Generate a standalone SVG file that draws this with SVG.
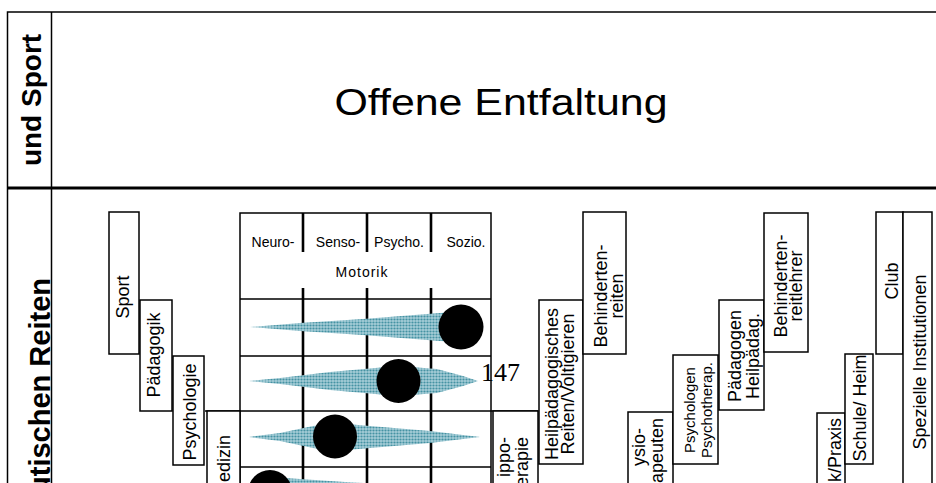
<svg xmlns="http://www.w3.org/2000/svg" width="936" height="483" viewBox="0 0 936 483">
<style>
.frame{fill:none;stroke:#000;stroke-width:1.5}
.box{fill:#fff;stroke:#000;stroke-width:1.5}
.gl{stroke:#000;stroke-width:1.5;fill:none}
.gv{stroke:#000;stroke-width:2.6;fill:none}
.t{font-family:"Liberation Sans",Arial,sans-serif;fill:#000}
.bt{font-family:"Liberation Sans",Arial,sans-serif;font-size:18px;fill:#000;text-anchor:middle}
.st{font-family:"Liberation Sans",Arial,sans-serif;font-size:15px;fill:#000;text-anchor:middle}
.ct{font-family:"Liberation Sans",Arial,sans-serif;font-size:18px;fill:#000;text-anchor:end}
.ht{font-family:"Liberation Sans",Arial,sans-serif;font-size:14px;fill:#000;text-anchor:middle}
.sp{fill:url(#dots)}
.dot{fill:#000}
</style>
<defs>
<pattern id="dots" width="3" height="3" patternUnits="userSpaceOnUse">
<rect width="3" height="3" fill="#a6ced8"/>
<circle cx="1.5" cy="1.5" r="1.1" fill="#4592a3"/>
</pattern>
</defs>
<rect width="936" height="483" fill="#fff"/>
<g id="frame">
<path class="frame" d="M945,12 H7.5 V490 M51.5,12 V490"/>
<path d="M7,188 H945" stroke="#000" stroke-width="3"/>
<text class="t" font-size="28" font-weight="bold" text-anchor="middle" transform="translate(41,100) rotate(-90)">und Sport</text>
<text class="t" font-size="29" font-weight="bold" text-anchor="end" transform="translate(50,278) rotate(-90)">utischen Reiten</text>
<text class="t" font-size="37" text-anchor="middle" transform="translate(501,115) scale(1.16,1)">Offene Entfaltung</text>
</g>
<g id="grid">
<rect class="gl" x="240" y="213" width="251" height="290"/>
<path class="gl" d="M240,299 H491 M240,356 H491 M205,411 H538 M240,467 H491"/>
<path class="gv" d="M303,213 V252 M367,213 V252 M431,213 V252 M303,288 V490 M367,288 V490 M431,288 V490"/>
<text class="ht" x="273" y="247">Neuro-</text>
<text class="ht" x="338" y="247">Senso-</text>
<text class="ht" x="399" y="247">Psycho.</text>
<text class="ht" x="466" y="247">Sozio.</text>
<text class="ht" x="362" y="277" letter-spacing="1">Motorik</text>
</g>
<g id="profiles">
<path class="sp" d="M250,327 L270,325.5 L300,323 L363,319 L440,313 L460,312 L460,342 L440,341 L363,335 L300,331 L270,328.5 Z"/>
<circle class="dot" cx="461" cy="327" r="22.5"/>
<path class="sp" d="M249,381 L280,378 L330,372 L398,366 L437,369 L463,376 L478,381 L463,386 L437,393 L398,396 L330,390 L280,384 Z"/>
<circle class="dot" cx="398.5" cy="381" r="22"/>
<path class="sp" d="M249,437 L280,433 L313,426 L335,423 L370,426 L430,431 L463,435 L480,437 L463,439 L430,443 L370,448 L335,451 L313,448 L280,441 Z"/>
<circle class="dot" cx="335" cy="436.5" r="22"/>
<path class="sp" d="M250,491 L270,477 L300,479 L345,482 L420,486 L480,491 L420,496 L345,500 L300,503 L270,505 Z"/>
<circle class="dot" cx="270" cy="492" r="22"/>
</g>
<text x="481" y="381" font-size="26" style="font-family:'Liberation Serif',serif">147</text>
<g id="n-sport">
<rect class="box" x="109" y="212" width="30" height="142"/>
<text class="bt" transform="translate(129,297) rotate(-90)">Sport</text>
</g>
<g id="n-paedagogik">
<rect class="box" x="140" y="300" width="32" height="111"/>
<text class="bt" transform="translate(160,355) rotate(-90)">Pädagogik</text>
</g>
<g id="n-psychologie">
<rect class="box" x="173" y="356" width="31" height="109"/>
<text class="bt" transform="translate(196,412) rotate(-90)">Psychologie</text>
</g>
<g id="n-medizin">
<rect class="box" x="207" y="411" width="33" height="80"/>
<text class="ct" transform="translate(230,435) rotate(-90)">edizin</text>
</g>
<g id="n-hippo">
<rect class="box" x="493" y="411" width="45" height="80"/>
<text class="ct" transform="translate(510,437) rotate(-90)">ippo-</text>
<text class="ct" transform="translate(528,437) rotate(-90)">erapie</text>
</g>
<g id="n-heilpaed">
<rect class="box" x="539" y="300" width="44" height="164"/>
<text class="bt" transform="translate(558,384) rotate(-90)">Heilpädagogisches</text>
<text class="bt" transform="translate(574,384) rotate(-90)">Reiten/Voltigieren</text>
</g>
<g id="n-behindertenreiten">
<rect class="box" x="583" y="212" width="43" height="142"/>
<text class="bt" transform="translate(607,296) rotate(-90)">Behinderten-</text>
<text class="bt" transform="translate(623,296) rotate(-90)">reiten</text>
</g>
<g id="n-physio">
<rect class="box" x="628" y="412" width="45" height="80"/>
<text class="ct" transform="translate(645,428) rotate(-90)">ysio-</text>
<text class="ct" transform="translate(663,418) rotate(-90)">apeuten</text>
</g>
<g id="n-psychologen">
<rect class="box" x="673" y="355" width="45" height="109"/>
<text class="st" transform="translate(695,410) rotate(-90)">Psychologen</text>
<text class="st" transform="translate(712,410) rotate(-90)">Psychotherap.</text>
</g>
<g id="n-paedagogen">
<rect class="box" x="719" y="300" width="45" height="110"/>
<text class="bt" transform="translate(741,356) rotate(-90)">Pädagogen</text>
<text class="bt" transform="translate(759,356) rotate(-90)">Heilpädag.</text>
</g>
<g id="n-reitlehrer">
<rect class="box" x="764" y="213" width="44" height="139"/>
<text class="bt" transform="translate(787,286) rotate(-90)">Behinderten-</text>
<text class="bt" transform="translate(802,286) rotate(-90)">reitlehrer</text>
</g>
<g id="n-klinik">
<rect class="box" x="817" y="413" width="28" height="80"/>
<text class="ct" transform="translate(841,418) rotate(-90)">k/Praxis</text>
</g>
<g id="n-schule">
<rect class="box" x="845" y="354" width="28" height="110"/>
<text class="bt" transform="translate(866,408) rotate(-90)">Schule/ Heim</text>
</g>
<g id="n-club">
<rect class="box" x="876" y="212" width="27" height="142"/>
<text class="bt" transform="translate(898,281) rotate(-90)">Club</text>
</g>
<g id="n-spezielle">
<rect class="box" x="903" y="212" width="29" height="280"/>
<text class="bt" transform="translate(926,362) rotate(-90)">Spezielle Institutionen</text>
</g>
</svg>
